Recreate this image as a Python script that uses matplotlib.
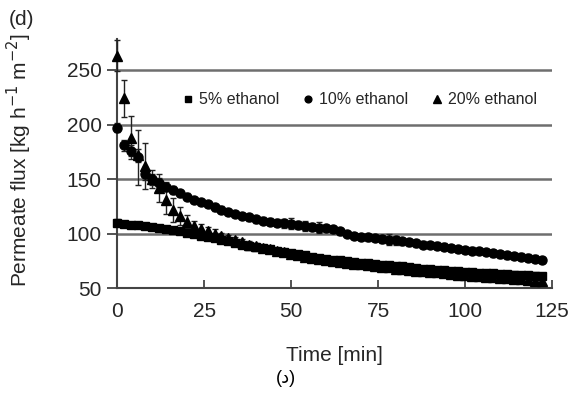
import matplotlib.pyplot as plt

plt.rcParams['font.family'] = ['Liberation Sans', 'DejaVu Sans']

# tempo de amostragem (min)
tempo = [0, 2, 4, 6, 8, 10, 12, 14, 16, 18, 20, 22, 24, 26, 28, 30, 32, 34, 36, 38,
         40, 42, 44, 46, 48, 50, 52, 54, 56, 58, 60, 62, 64, 66, 68, 70, 72, 74, 76, 78,
         80, 82, 84, 86, 88, 90, 92, 94, 96, 98, 100, 102, 104, 106, 108, 110, 112, 114,
         116, 118, 120, 122]

# 5% etanol
fluxo_5 = [110, 109, 108, 108, 107, 106, 105, 104, 103, 102, 101, 100, 98, 97, 96, 94.5,
           93, 91.5, 90, 89, 88, 87, 86, 84.5, 83, 82, 81, 80, 79, 78, 77, 76, 75.5, 75,
           74, 73.5, 73, 72, 71.5, 71, 70.5, 70, 69, 68.5, 68, 67.5, 67, 66.5, 66, 65.5,
           65, 64.5, 64, 64, 63.5, 63, 63, 62.5, 62, 62, 61.5, 61]
erro_5 = [3, 2, 2, 2, 2, 2, 2, 2, 2, 2, 2, 2, 2, 2, 2, 2, 2, 2, 2, 2,
          2, 2, 2, 2, 2, 2, 2, 2, 2, 2, 2, 2, 2, 2, 2, 2, 2, 2, 2, 2,
          2, 2, 2, 2, 2, 3, 2, 3, 2, 3, 2, 3, 2, 3, 2, 3, 3, 3, 3, 3, 3, 3]

# 10% etanol
fluxo_10 = [197, 181, 176, 170, 155, 150, 146, 143, 140, 137, 134, 131, 129, 127, 124, 122,
            120, 118, 116, 115, 113, 112, 111, 110, 109.5, 109, 108, 107, 106, 105.5, 105,
            104, 102, 99.5, 98, 97, 96.5, 96, 95, 94.5, 94, 93, 92, 91, 90, 89.5, 89, 88,
            87, 86, 85, 84.5, 84, 83, 82, 81, 80, 79.5, 79, 78, 77, 76]
erro_10 = [4, 5, 5, 25, 6, 5, 5, 4, 4, 3, 3, 3, 3, 3, 3, 3, 3, 3, 3, 3,
           3, 3, 3, 3, 4, 5, 4, 5, 4, 5, 3, 3, 3, 3, 3, 3, 3, 3, 4, 5,
           4, 3, 3, 3, 3, 3, 3, 3, 3, 3, 3, 3, 3, 3, 3, 3, 3, 3, 3, 3, 3, 3]

# 20% etanol
fluxo_20 = [263, 224, 188, 172, 162, 150, 142, 131, 122, 116, 111, 107, 104, 102, 100, 98,
            96, 94, 92, 90, 88.5, 87, 85.5, 84, 83, 81.5, 80, 79, 78, 77, 76, 75, 74, 73,
            72.5, 72, 71, 70, 69.5, 69, 68, 67.5, 67, 66, 65.5, 65, 64.5, 64, 63, 62.5,
            62, 61.5, 61, 60.5, 60, 59.5, 59, 58.5, 58, 57.5, 57, 57]
erro_20 = [14, 17, 20, 6, 21, 8, 13, 13, 11, 8, 6, 5, 5, 4, 4, 3, 3, 3, 3, 3,
           3, 3, 3, 3, 3, 3, 3, 3, 3, 3, 3, 3, 3, 3, 3, 3, 3, 3, 3, 3,
           3, 3, 3, 3, 3, 3, 3, 3, 3, 3, 3, 3, 3, 3, 3, 3, 3, 3, 3, 3, 3, 3]

cor_texto = '#262626'

fig = plt.figure(figsize=(5.71, 3.98), dpi=100)
ax = fig.add_axes([0.205, 0.276, 0.762, 0.625])

# linhas de grade horizontais
for v in [100, 150, 200, 250]:
    ax.axhline(v, color='#6e6e6e', lw=1.8, zorder=1)

estilo = dict(ls='none', color='black', ecolor='#222222', elinewidth=1,
              capsize=2.5, capthick=1, clip_on=False, zorder=3)
e5 = ax.errorbar(tempo, fluxo_5, yerr=erro_5, marker='s', ms=6, **estilo)
e10 = ax.errorbar(tempo, fluxo_10, yerr=erro_10, marker='o', ms=6.5, **estilo)
e20 = ax.errorbar(tempo, fluxo_20, yerr=erro_20, marker='^', ms=7, **estilo)

ax.set_xlim(0, 125)
ax.set_ylim(50, 278)
ax.set_xticks([0, 25, 50, 75, 100, 125])
ax.set_yticks([50, 100, 150, 200, 250])

for lado in ['top', 'right']:
    ax.spines[lado].set_visible(False)
for lado in ['left', 'bottom']:
    ax.spines[lado].set_color('#444444')
    ax.spines[lado].set_linewidth(1.5)

ax.tick_params(axis='x', direction='in', length=6, width=1.3, color='#444444',
               labelsize=15, labelcolor=cor_texto, pad=10)
ax.tick_params(axis='y', direction='out', length=7, width=1.3, color='#444444',
               labelsize=15, labelcolor=cor_texto, pad=4)

ax.set_xlabel('Time [min]', fontsize=15, color=cor_texto, labelpad=18)
ax.set_ylabel('Permeate flux [kg h$^{-1}$ m$^{-2}$]', fontsize=15, color=cor_texto)
ax.yaxis.set_label_coords(-0.19, 0.515)

leg = ax.legend([e5[0], e10[0], e20[0]], ['5% ethanol', '10% ethanol', '20% ethanol'],
                loc='center', bbox_to_anchor=(0.555, 0.757), ncol=3, frameon=False,
                fontsize=11.5, handletextpad=0.2, columnspacing=1.3, markerscale=0.75,
                handlelength=1.0)
for t in leg.get_texts():
    t.set_color(cor_texto)

fig.text(0.015, 0.95, '(d)', fontsize=15, color=cor_texto, va='center')
fig.text(0.5, 0.05, '(د)', fontsize=13, color='black', ha='center', va='center')

fig.savefig('out.png', dpi=100)
